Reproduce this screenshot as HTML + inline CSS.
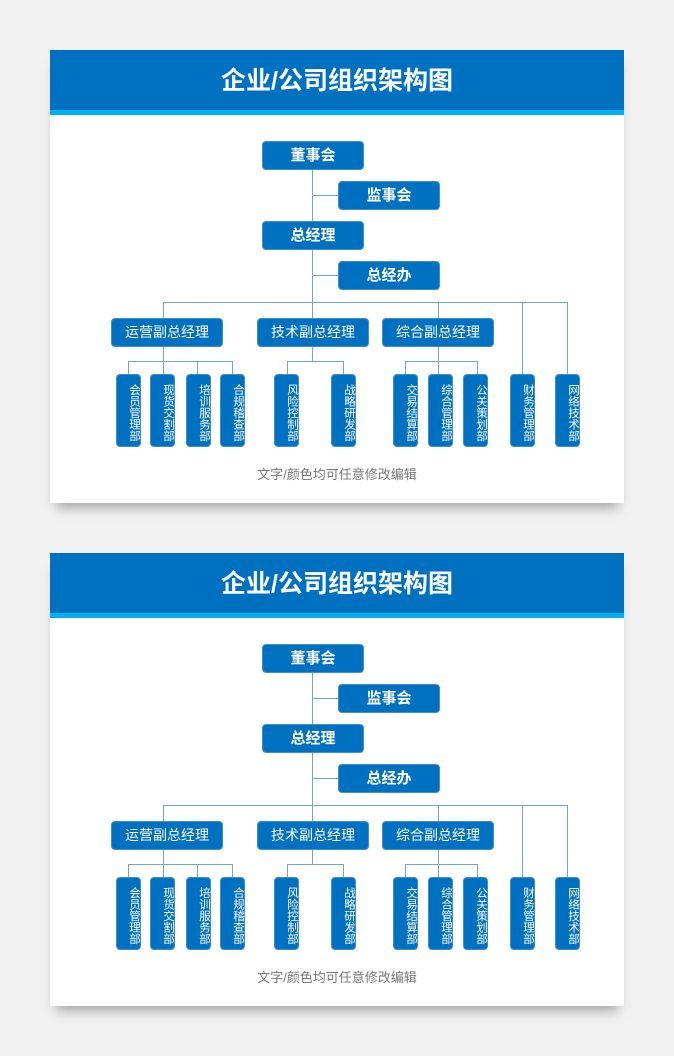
<!DOCTYPE html><html><head><meta charset="utf-8"><style>
*{margin:0;padding:0;box-sizing:border-box}
body{width:674px;height:1056px;background:#f1f1f2;position:relative;overflow:hidden;font-family:"Liberation Sans","Noto Sans CJK SC",sans-serif}
.card{position:absolute;left:50px;width:574px;height:453px;background:#fff;box-shadow:0 10px 12px -6px rgba(0,0,0,.35)}
.hd{position:absolute;left:0;top:0;width:574px;height:60px;background:#0070c0;color:#fff;font-weight:bold;font-size:25px;text-align:center;line-height:62px}
.st{position:absolute;left:0;top:60px;width:574px;height:5px;background:#00b0f0}
.b{position:absolute;background:#0070c0;color:#fff;border-radius:4px;text-align:center;border:1px solid #3d8fd0}
.t1{font-weight:bold;font-size:15px;line-height:27px}
.t2{font-size:14px;line-height:27px}
.d{width:25px;height:73px;font-size:11.5px;line-height:12.5px;padding-top:4px;writing-mode:vertical-rl;text-orientation:upright;display:flex;align-items:flex-start;justify-content:center}
.l{position:absolute;background:#6fa6d8}
.ft{position:absolute;left:0;width:574px;top:414px;text-align:center;color:#777;font-size:13px}
</style></head><body>
<div class="card" style="top:50px"></div>
<div class="card" style="top:553px"></div>
<script>
var html=`<div class="hd">企业/公司组织架构图</div><div class="st"></div>
<div class="l" style="left:262px;top:119px;width:1px;height:134px"></div>
<div class="l" style="left:262px;top:145px;width:26px;height:1px"></div>
<div class="l" style="left:262px;top:225px;width:26px;height:1px"></div>
<div class="l" style="left:113px;top:252px;width:404px;height:1px"></div>
<div class="l" style="left:113px;top:252px;width:1px;height:72px"></div>
<div class="l" style="left:262px;top:252px;width:1px;height:59px"></div>
<div class="l" style="left:388px;top:252px;width:1px;height:72px"></div>
<div class="l" style="left:472px;top:252px;width:1px;height:72px"></div>
<div class="l" style="left:517px;top:252px;width:1px;height:72px"></div>
<div class="l" style="left:78px;top:311px;width:104px;height:1px"></div>
<div class="l" style="left:78px;top:311px;width:1px;height:13px"></div>
<div class="l" style="left:147px;top:311px;width:1px;height:13px"></div>
<div class="l" style="left:182px;top:311px;width:1px;height:13px"></div>
<div class="l" style="left:237px;top:311px;width:56px;height:1px"></div>
<div class="l" style="left:237px;top:311px;width:1px;height:13px"></div>
<div class="l" style="left:293px;top:311px;width:1px;height:13px"></div>
<div class="l" style="left:355px;top:311px;width:72px;height:1px"></div>
<div class="l" style="left:355px;top:311px;width:1px;height:13px"></div>
<div class="l" style="left:427px;top:311px;width:1px;height:13px"></div>
<div class="b t1" style="left:212px;top:91px;width:102px;height:29px">董事会</div>
<div class="b t1" style="left:288px;top:131px;width:102px;height:29px">监事会</div>
<div class="b t1" style="left:212px;top:171px;width:102px;height:29px">总经理</div>
<div class="b t1" style="left:288px;top:211px;width:102px;height:29px">总经办</div>
<div class="b t2" style="left:61px;top:268px;width:112px;height:29px">运营副总经理</div>
<div class="b t2" style="left:207px;top:268px;width:112px;height:29px">技术副总经理</div>
<div class="b t2" style="left:332px;top:268px;width:112px;height:29px">综合副总经理</div>
`;
var ds=[[66,"会员管理部"],[100,"现货交割部"],[136,"培训服务部"],[170,"合规稽查部"],[224,"风险控制部"],[281,"战略研发部"],[343,"交易结算部"],[378,"综合管理部"],[413,"公关策划部"],[460,"财务管理部"],[505,"网络技术部"]];
ds.forEach(function(d){html+='<div class="b d" style="left:'+d[0]+'px;top:324px">'+d[1]+'</div>'});
html+='<div class="ft">文字/颜色均可任意修改编辑</div>';
document.querySelectorAll('.card').forEach(function(c){c.innerHTML=html});
</script>
</body></html>
